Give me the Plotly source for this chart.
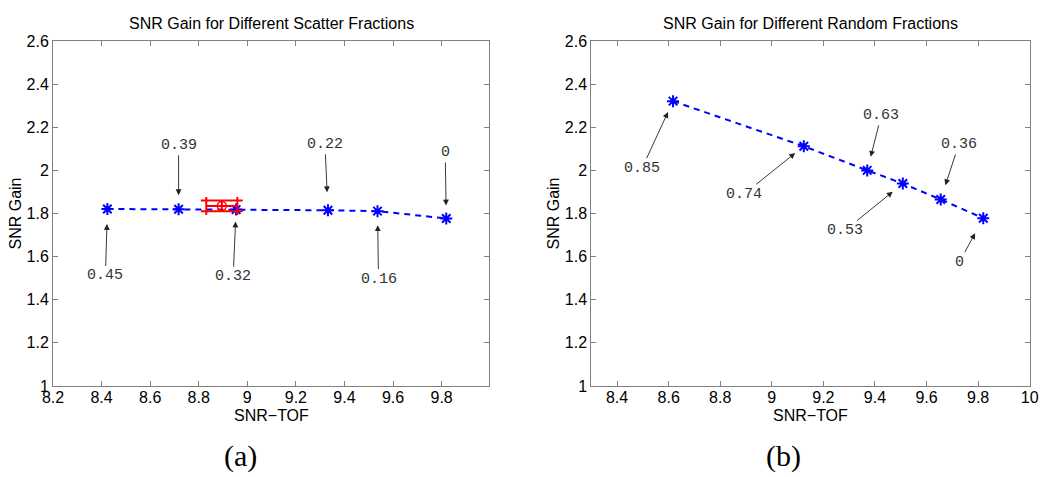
import plotly.graph_objects as go

# ---------------- data ----------------
scatter_snr_tof = [8.424, 8.717, 8.954, 9.332, 9.536, 9.819]
scatter_gain = [1.821, 1.820, 1.818, 1.815, 1.811, 1.777]
scatter_labels = ["0.45", "0.39", "0.32", "0.22", "0.16", "0"]

random_snr_tof = [8.617, 9.124, 9.370, 9.508, 9.655, 9.820]
random_gain = [2.321, 2.112, 2.000, 1.939, 1.865, 1.778]
random_labels = ["0.85", "0.74", "0.63", "0.53", "0.36", "0"]

meas_x = [8.895]
meas_y = [1.835]
meas_xerr = [0.064]
meas_yerr = [0.025]

y_ticks = [1, 1.2, 1.4, 1.6, 1.8, 2, 2.2, 2.4, 2.6]
y_ticktext = ["1", "1.2", "1.4", "1.6", "1.8", "2", "2.2", "2.4", "2.6"]
xa_ticks = [8.2, 8.4, 8.6, 8.8, 9.0, 9.2, 9.4, 9.6, 9.8]
xa_ticktext = ["8.2", "8.4", "8.6", "8.8", "9", "9.2", "9.4", "9.6", "9.8"]
xb_ticks = [8.4, 8.6, 8.8, 9.0, 9.2, 9.4, 9.6, 9.8, 10.0]
xb_ticktext = ["8.4", "8.6", "8.8", "9", "9.2", "9.4", "9.6", "9.8", "10"]

# ---------------- styling / placement ----------------
OFF = 8  # default page body margin
W, H = 1050 - OFF, 477 - OFF
BLUE = "#0000ff"
AX = "#808080"
SANS = "Liberation Sans, Arial, sans-serif"
MONO = "Liberation Mono, Courier New, monospace"
SERIF = "Liberation Serif, Times New Roman, serif"

# label offsets (px) from point: (ax, ay, standoff)
scatter_label_pos = [(-2, 67, 15), (0, -64, 14), (-3, 67, 12),
                     (-3, -66, 18), (1, 68, 14), (-1, -66, 13)]
random_label_pos = [(-31, 67, 12), (-60, 48, 11), (14, -55, 14),
                    (-58, 47, 13), (18, -55, 15), (-24, 44, 17)]

fig = go.Figure()

line_style = dict(color=BLUE, width=2, dash="6px,5px")
marker_style = dict(symbol="asterisk-open", size=10, color=BLUE,
                    line=dict(color=BLUE, width=2))

fig.add_trace(go.Scatter(x=scatter_snr_tof, y=scatter_gain, mode="lines+markers",
                         line=line_style, marker=marker_style,
                         xaxis="x", yaxis="y", showlegend=False))
fig.add_trace(go.Scatter(x=meas_x, y=meas_y, mode="markers",
                         marker=dict(symbol="circle-open", size=9, color="red",
                                     line=dict(color="red", width=1.5)),
                         error_x=dict(type="data", array=meas_xerr, color="red",
                                      thickness=2, width=9),
                         error_y=dict(type="data", array=meas_yerr, color="red",
                                      thickness=2, width=21),
                         xaxis="x", yaxis="y", showlegend=False))
fig.add_trace(go.Scatter(x=random_snr_tof, y=random_gain, mode="lines+markers",
                         line=line_style, marker=marker_style,
                         xaxis="x2", yaxis="y2", showlegend=False))

annotations = []
for xs, ys, labs, pos, xr, yr in [
    (scatter_snr_tof, scatter_gain, scatter_labels, scatter_label_pos, "x", "y"),
    (random_snr_tof, random_gain, random_labels, random_label_pos, "x2", "y2"),
]:
    for xv, yv, lab, (axo, ayo, so) in zip(xs, ys, labs, pos):
        annotations.append(dict(
            x=xv, y=yv, xref=xr, yref=yr, text=lab, showarrow=True,
            ax=axo, ay=ayo, standoff=so, arrowhead=2, arrowsize=1.3,
            arrowwidth=0.9, arrowcolor="#222222",
            font=dict(family=MONO, size=15, color="#333333")))

# reference-window pixel positions
lx0, lx1 = 53, 489
rx0, rx1 = 591.3, 1029.7
ptop, pbot = 41, 386

def px(x):
    return (x - OFF) / W

def py(y):
    return (H - (y - OFF)) / H

titles = [
    ("SNR Gain for Different Scatter Fractions", (lx0 + lx1) / 2),
    ("SNR Gain for Different Random Fractions", (rx0 + rx1) / 2),
]
for t, cx in titles:
    annotations.append(dict(text=t, x=px(cx), y=py(23), xref="paper", yref="paper",
                            showarrow=False, xanchor="center", yanchor="middle",
                            font=dict(family=SANS, size=16, color="black")))
for cx in [(lx0 + lx1) / 2, (rx0 + rx1) / 2]:
    annotations.append(dict(text="SNR\u2212TOF", x=px(cx), y=py(415), xref="paper",
                            yref="paper", showarrow=False, xanchor="center",
                            yanchor="middle",
                            font=dict(family=SANS, size=16, color="black")))
for cx in [15, 553]:
    annotations.append(dict(text="SNR Gain", x=px(cx), y=py(213.5), xref="paper",
                            yref="paper", showarrow=False, textangle=-90,
                            xanchor="center", yanchor="middle",
                            font=dict(family=SANS, size=16, color="black")))
for t, cx in [("(a)", 240), ("(b)", 783)]:
    annotations.append(dict(text=t, x=px(cx), y=py(456), xref="paper", yref="paper",
                            showarrow=False, xanchor="center", yanchor="middle",
                            font=dict(family=SERIF, size=30, color="black")))

axis_common = dict(showline=True, linecolor=AX, linewidth=1, mirror="ticks",
                   ticks="inside", ticklen=5, tickcolor=AX, showgrid=False,
                   zeroline=False, automargin=False,
                   tickfont=dict(family=SANS, size=16, color="black"))

fig.update_layout(
    width=W, height=H, margin=dict(l=0, r=0, t=0, b=0, pad=0),
    paper_bgcolor="white", plot_bgcolor="white",
    xaxis=dict(domain=[px(lx0), px(lx1)], range=[8.2, 9.995], anchor="y",
               tickvals=xa_ticks, ticktext=xa_ticktext, ticklabelstandoff=-3,
               **axis_common),
    yaxis=dict(domain=[py(pbot), py(ptop)], range=[1, 2.6], anchor="x",
               tickvals=y_ticks, ticktext=y_ticktext, **axis_common),
    xaxis2=dict(domain=[px(rx0), px(rx1)], range=[8.3, 10], anchor="y2",
                tickvals=xb_ticks, ticktext=xb_ticktext, ticklabelstandoff=-3,
                **axis_common),
    yaxis2=dict(domain=[py(pbot), py(ptop)], range=[1, 2.6], anchor="x2",
                tickvals=y_ticks, ticktext=y_ticktext, **axis_common),
    annotations=annotations,
)

fig.write_html("out.html")
